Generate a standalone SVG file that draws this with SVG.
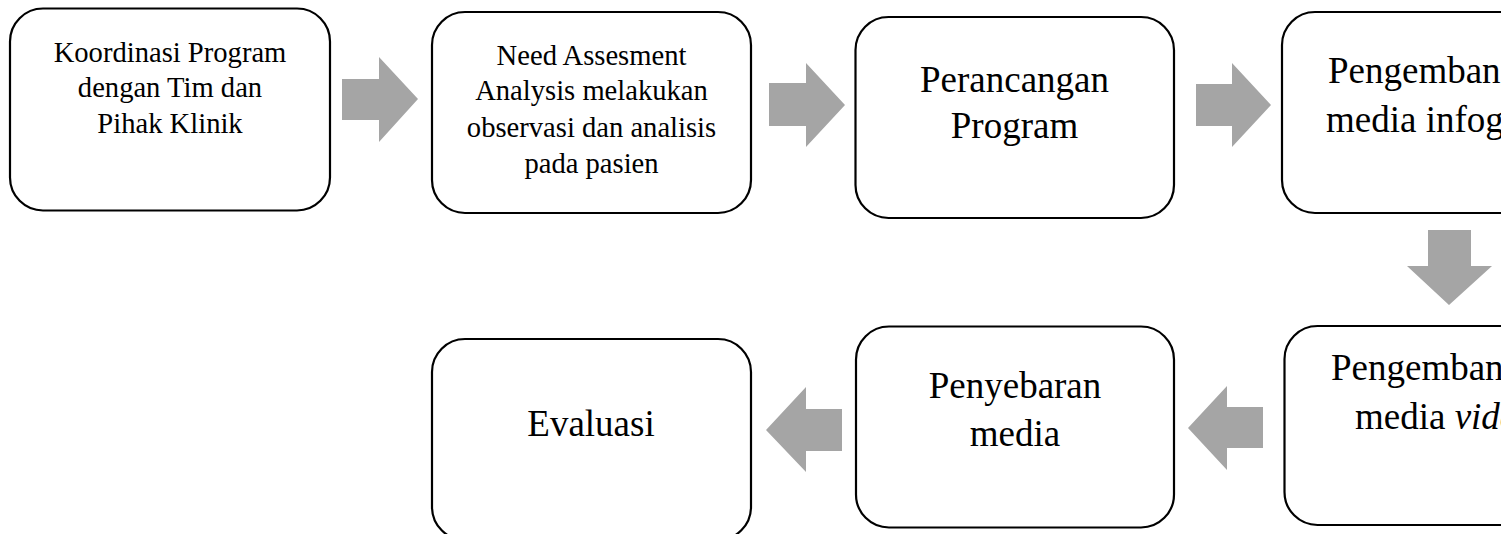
<svg xmlns="http://www.w3.org/2000/svg" width="1501" height="534" viewBox="0 0 1501 534">
<style>
.box{fill:#ffffff;stroke:#000000;stroke-width:2.2}
.arrow{fill:#a5a5a5;stroke:none}
.sm{font-family:"Liberation Serif","Times New Roman",serif;font-size:28.6px;fill:#000000;text-anchor:middle}
.lg{font-family:"Liberation Serif","Times New Roman",serif;font-size:37px;fill:#000000;text-anchor:middle}
.st{text-anchor:start}
</style>
<rect x="0" y="0" width="1501" height="534" fill="#ffffff"/>
<g id="connectors">
<polygon class="arrow" points="342,79 379,79 379,57 418,99 379,142 379,120 342,120"/>
<polygon class="arrow" points="769,83 806,83 806,63 845,105 806,147 806,126 769,126"/>
<polygon class="arrow" points="1196,84 1232,84 1232,63 1271,105 1232,147 1232,126 1196,126"/>
<polygon class="arrow" points="1428,230 1471,230 1471,266 1492,266 1449,305 1407,266 1428,266"/>
<polygon class="arrow" points="1263,407 1227,407 1227,386 1188,428 1227,470 1227,448 1263,448"/>
<polygon class="arrow" points="842,409 806,409 806,387 766,430 806,472 806,451 842,451"/>
</g>
<g id="node-koordinasi">
<rect class="box" x="10" y="8.5" width="320" height="202" rx="33" ry="33"/>
<text class="sm" x="170" y="62">Koordinasi Program</text>
<text class="sm" x="170" y="97">dengan Tim dan</text>
<text class="sm" x="170" y="133">Pihak Klinik</text>
</g>
<g id="node-need-assesment">
<rect class="box" x="432" y="12" width="319" height="201" rx="33" ry="33"/>
<text class="sm" x="591.5" y="65">Need Assesment</text>
<text class="sm" x="591.5" y="100">Analysis melakukan</text>
<text class="sm" x="591.5" y="137">observasi dan analisis</text>
<text class="sm" x="591.5" y="173">pada pasien</text>
</g>
<g id="node-perancangan">
<rect class="box" x="855.5" y="17" width="318.5" height="201" rx="33" ry="33"/>
<text class="lg" x="1014.5" y="92">Perancangan</text>
<text class="lg" x="1014.5" y="138">Program</text>
</g>
<g id="node-infografis">
<rect class="box" x="1282" y="12" width="318" height="201" rx="33" ry="33"/>
<text class="lg st" x="1328" y="83">Pengembangan</text>
<text class="lg st" x="1326" y="132">media infografis</text>
</g>
<g id="node-video">
<rect class="box" x="1284.5" y="326" width="318" height="199" rx="33" ry="33"/>
<text class="lg st" x="1331" y="380">Pengembangan</text>
<text class="lg st" x="1355" y="429">media <tspan font-style="italic">video</tspan></text>
</g>
<g id="node-penyebaran">
<rect class="box" x="856" y="326.5" width="318" height="201" rx="33" ry="33"/>
<text class="lg" x="1015" y="398">Penyebaran</text>
<text class="lg" x="1015" y="446">media</text>
</g>
<g id="node-evaluasi">
<rect class="box" x="432" y="339" width="319" height="201" rx="33" ry="33"/>
<text class="lg" x="591" y="436">Evaluasi</text>
</g>
</svg>
